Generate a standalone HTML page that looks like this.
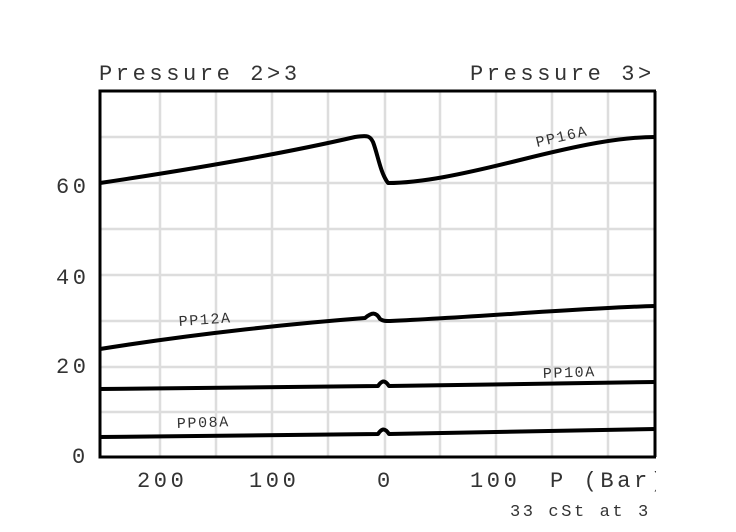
<!DOCTYPE html>
<html><head><meta charset="utf-8"><style>
html,body{margin:0;padding:0;background:#fff;width:736px;height:532px;overflow:hidden}
svg text{font-family:"Liberation Mono",monospace;fill:#333}
</style></head><body>
<svg width="736" height="532" viewBox="0 0 736 532">
<rect x="0" y="0" width="736" height="532" fill="#fff"/>
<g stroke="#ddd" stroke-width="2.5">
<line x1="160" y1="91" x2="160" y2="457"/><line x1="216" y1="91" x2="216" y2="457"/>
<line x1="272" y1="91" x2="272" y2="457"/><line x1="328" y1="91" x2="328" y2="457"/>
<line x1="385" y1="91" x2="385" y2="457"/><line x1="440" y1="91" x2="440" y2="457"/>
<line x1="496" y1="91" x2="496" y2="457"/><line x1="552" y1="91" x2="552" y2="457"/>
<line x1="608" y1="91" x2="608" y2="457"/>
<line x1="100" y1="137" x2="655" y2="137"/><line x1="100" y1="183" x2="655" y2="183"/>
<line x1="100" y1="229" x2="655" y2="229"/><line x1="100" y1="275" x2="655" y2="275"/>
<line x1="100" y1="321" x2="655" y2="321"/><line x1="100" y1="367" x2="655" y2="367"/>
<line x1="100" y1="412" x2="655" y2="412"/>
</g>
<rect x="100" y="91" width="555" height="366" fill="none" stroke="#000" stroke-width="3"/>
<g fill="none" stroke="#000" stroke-width="4" stroke-linejoin="round">
<path d="M100,183 C200,168 290,152 355,137 C368,135 370,136 373,142 C378,155 380,172 388,183 C420,183 460,175 520,160 C580,145 620,137 655,137"/>
<path d="M100,349 C200,333 300,323 365,318 C372,312 376,312 380,319 C383,321 385,321 390,321 C480,317 580,308 655,306"/>
<path d="M100,389 L378,386 C382,380 385,380 389,386 L655,382"/>
<path d="M100,437 L378,434 C382,428 385,428 389,434 L655,429"/>
</g>
<g font-size="22" letter-spacing="3.6">
<text x="99" y="80">Pressure 2&gt;3</text>
<text x="470" y="80">Pressure 3&gt;</text>
<text x="56" y="193">60</text><text x="56" y="284">40</text>
<text x="56" y="373">20</text><text x="72" y="463">0</text>
<text x="137" y="487">200</text><text x="249" y="487">100</text>
<text x="377" y="487">0</text><text x="470" y="487">100</text>
<text x="550" y="487">P (Bar)</text>
</g>
<text x="510" y="516" font-size="17" letter-spacing="2.6">33 cSt at 3</text>
<g font-size="15" letter-spacing="1.6">
<text x="537" y="147" transform="rotate(-13 537 147)">PP16A</text>
<text x="179" y="326" transform="rotate(-4 179 326)">PP12A</text>
<text x="543" y="378" transform="rotate(-2 543 378)">PP10A</text>
<text x="177" y="428" transform="rotate(-2 177 428)">PP08A</text>
</g>
<rect x="656" y="0" width="80" height="532" fill="#fff"/>
<line x1="655" y1="91" x2="655" y2="457" stroke="#000" stroke-width="3"/>
</svg>
</body></html>
